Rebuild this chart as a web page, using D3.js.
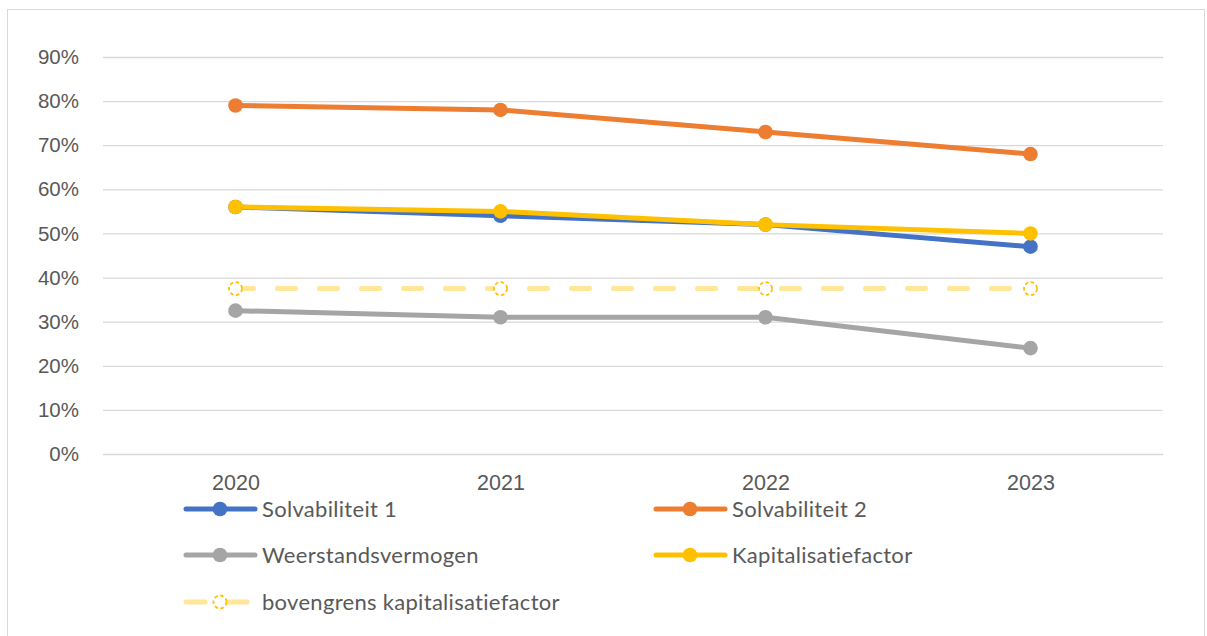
<!DOCTYPE html>
<html><head><meta charset="utf-8">
<script src="https://cdn.jsdelivr.net/npm/d3@7"></script>
<style>
html,body{margin:0;padding:0;background:#fff;}
svg{display:block;font-family:Lato,"Open Sans",sans-serif;}
</style></head>
<body>
<svg id="chart" width="1207" height="636"></svg>
<script>
const categories = ["2020","2021","2022","2023"];
const solvabiliteit1 = [56, 54, 52, 47];
const solvabiliteit2 = [79, 78, 73, 68];
const weerstandsvermogen = [32.5, 31, 31, 24];
const kapitalisatiefactor = [56, 55, 52, 50];
const bovengrens = [37.5, 37.5, 37.5, 37.5];
const yTicks = [0,10,20,30,40,50,60,70,80,90];

const series = [
  {name:"Solvabiliteit 1", values:solvabiliteit1, color:"#4472C4", dashed:false},
  {name:"Solvabiliteit 2", values:solvabiliteit2, color:"#ED7D31", dashed:false},
  {name:"Weerstandsvermogen", values:weerstandsvermogen, color:"#A5A5A5", dashed:false},
  {name:"Kapitalisatiefactor", values:kapitalisatiefactor, color:"#FFC000", dashed:false},
  {name:"bovengrens kapitalisatiefactor", values:bovengrens, color:"#FFE699", marker:"#FFC000", dashed:true}
];

const svg = d3.select("#chart");
svg.append("rect").attr("x",7.5).attr("y",9.5).attr("width",1197).attr("height",640)
  .attr("fill","#fff").attr("stroke","#D9D9D9").attr("stroke-width",1);

const pLeft=103, pRight=1163, pTop=57, pBottom=454;
const x = d3.scalePoint().domain(categories).range([pLeft,pRight]).padding(0.5);
const y = d3.scaleLinear().domain([0,90]).range([pBottom,pTop]);

const yAxis = d3.axisLeft(y).tickValues(yTicks).tickFormat(d=>d+"%").tickSize(-(pRight-pLeft)).tickPadding(24);
const gy = svg.append("g").attr("transform",`translate(${pLeft},0)`).call(yAxis);
gy.select(".domain").remove();
gy.selectAll(".tick line").attr("stroke","#D9D9D9").attr("stroke-width",1.3);
gy.selectAll(".tick text").attr("fill","#595959").attr("font-size","20.5px");

const xAxis = d3.axisBottom(x).tickSize(0).tickPadding(21);
const gx = svg.append("g").attr("transform",`translate(0,${pBottom})`).call(xAxis);
gx.select(".domain").remove();
gx.selectAll(".tick text").attr("fill","#595959").attr("font-size","21.5px");

const line = d3.line().x((d,i)=>x(categories[i])).y(d=>y(d));

series.forEach(s=>{
  const g = svg.append("g");
  g.append("path").attr("d",line(s.values)).attr("fill","none")
    .attr("stroke",s.color).attr("stroke-width",s.dashed?5:5)
    .attr("stroke-linecap","round")
    .attr("stroke-dasharray",s.dashed?"18,24":null);
  g.selectAll("circle").data(s.values).join("circle")
    .attr("cx",(d,i)=>x(categories[i])).attr("cy",d=>y(d))
    .attr("r",s.dashed?6.5:7.3)
    .attr("fill",s.dashed?"#fff":s.color)
    .attr("stroke",s.dashed?s.marker:"none")
    .attr("stroke-width",s.dashed?1.8:0)
    .attr("stroke-dasharray",s.dashed?"3.5,2.5":null);
});

// legend
const legendPos = [
  {x:185,y:509},{x:655,y:509},{x:185,y:555},{x:655,y:555},{x:185,y:602}
];
series.forEach((s,i)=>{
  const p = legendPos[i];
  const g = svg.append("g").attr("transform",`translate(${p.x},${p.y})`);
  if(s.dashed){
    g.append("line").attr("x1",1).attr("x2",20).attr("y1",0).attr("y2",0)
      .attr("stroke",s.color).attr("stroke-width",5).attr("stroke-linecap","round");
    g.append("line").attr("x1",43).attr("x2",62).attr("y1",0).attr("y2",0)
      .attr("stroke",s.color).attr("stroke-width",5).attr("stroke-linecap","round");
    g.append("circle").attr("cx",35).attr("cy",0).attr("r",6.5).attr("fill","#fff")
      .attr("stroke",s.marker).attr("stroke-width",1.8).attr("stroke-dasharray","3.5,2.5");
  } else {
    g.append("line").attr("x1",1).attr("x2",70).attr("y1",0).attr("y2",0)
      .attr("stroke",s.color).attr("stroke-width",5).attr("stroke-linecap","round");
    g.append("circle").attr("cx",35).attr("cy",0).attr("r",7.3).attr("fill",s.color);
  }
  g.append("text").attr("x",77).attr("y",0).attr("dy","0.35em")
    .attr("fill","#595959").attr("font-size","22px").attr("letter-spacing","0.3px").text(s.name);
});
</script>
</body></html>
